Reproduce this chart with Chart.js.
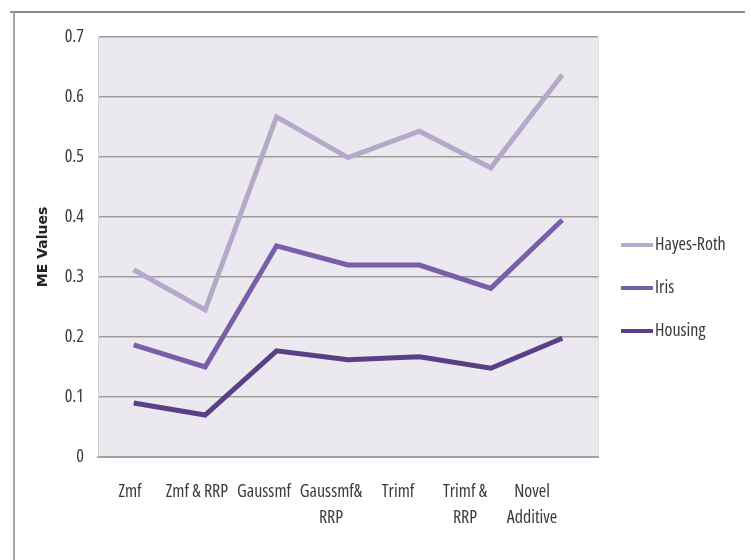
<!DOCTYPE html>
<html>
<head>
<meta charset="utf-8">
<script src="https://cdn.jsdelivr.net/npm/chart.js@4/dist/chart.umd.min.js"></script>
<style>
  html, body { margin: 0; padding: 0; background: #ffffff; }
  #wrap { position: relative; width: 751px; height: 560px; }
</style>
</head>
<body>
<div id="wrap"><canvas id="c" width="751" height="560"></canvas></div>
<script>
// ---- Data ----
const categoryLabels = ["Zmf", "Zmf & RRP", "Gaussmf", ["Gaussmf&", "RRP"], "Trimf", ["Trimf &", "RRP"], ["Novel", "Additive"]];
const seriesNames = ["Hayes-Roth", "Iris", "Housing"];
const hayesRoth = [0.312, 0.245, 0.567, 0.499, 0.543, 0.482, 0.637];
const iris      = [0.187, 0.150, 0.352, 0.320, 0.320, 0.281, 0.395];
const housing   = [0.090, 0.070, 0.177, 0.162, 0.167, 0.148, 0.198];
const yTicks = [0, 0.1, 0.2, 0.3, 0.4, 0.5, 0.6, 0.7];

const colors = ["#b3a9c9", "#7a5ea8", "#5b3f86"];
const FONT = "'Open Sans', sans-serif";
const STRETCH = 'condensed';

const bgPlugin = {
  id: 'bg',
  beforeDraw(chart) {
    const {ctx, chartArea: a} = chart;
    ctx.save();
    ctx.fillStyle = '#ebe8ef';
    ctx.fillRect(a.left, a.top, a.right - a.left, a.bottom - a.top);
    ctx.strokeStyle = '#dcdcdc';
    ctx.lineWidth = 1;
    ctx.beginPath();
    ctx.moveTo(a.right + 0.5, a.top);
    ctx.lineTo(a.right + 0.5, a.bottom);
    ctx.stroke();
    // outer frame (top and left)
    ctx.strokeStyle = '#8c8c8c';
    ctx.lineWidth = 2;
    ctx.beginPath();
    ctx.moveTo(10, 12);
    ctx.lineTo(745, 12);
    ctx.stroke();
    ctx.strokeStyle = '#a5a5a5';
    ctx.beginPath();
    ctx.moveTo(14, 12);
    ctx.lineTo(14, 560);
    ctx.stroke();
    ctx.restore();
  }
};

const legendPlugin = {
  id: 'sideLegend',
  afterDraw(chart) {
    const {ctx} = chart;
    const x0 = 621, x1 = 653, yStart = 245, step = 43;
    ctx.save();
    chart.data.datasets.forEach((ds, i) => {
      const y = yStart + i * step;
      ctx.strokeStyle = ds.borderColor;
      ctx.lineWidth = 4;
      ctx.beginPath();
      ctx.moveTo(x0, y);
      ctx.lineTo(x1, y);
      ctx.stroke();
      ctx.fillStyle = '#3a3a3a';
      ctx.font = STRETCH + " 18px " + FONT;
      ctx.textBaseline = 'middle';
      ctx.textAlign = 'left';
      ctx.fillText(ds.label, x1 + 2, y);
    });
    ctx.restore();
  }
};

new Chart(document.getElementById('c'), {
  type: 'line',
  data: {
    labels: categoryLabels,
    datasets: [
      { label: seriesNames[0], data: hayesRoth, borderColor: colors[0] },
      { label: seriesNames[1], data: iris, borderColor: colors[1] },
      { label: seriesNames[2], data: housing, borderColor: colors[2] }
    ].map(d => Object.assign(d, { borderWidth: 5, pointRadius: 0, tension: 0, fill: false, backgroundColor: d.borderColor }))
  },
  options: {
    responsive: false,
    animation: false,
    devicePixelRatio: 1,
    layout: { padding: { left: 14, top: 37, right: 153, bottom: 0 } },
    plugins: { legend: { display: false }, tooltip: { enabled: false }, title: { display: false } },
    scales: {
      x: {
        offset: true,
        grid: { display: false, drawTicks: false, offset: true },
        border: { display: true, color: '#a0a0a0', width: 2 },
        ticks: { display: false },
        afterFit(scale) { scale.height = 0; }
      },
      // label axis: category names laid out as in the reference (slightly tighter than the points)
      xLabels: {
        type: 'linear',
        position: 'bottom',
        min: -0.4776,
        max: 6.985,
        afterBuildTicks(scale) { scale.ticks = categoryLabels.map((_, i) => ({ value: i })); },
        grid: { display: false, drawTicks: false },
        border: { display: false },
        ticks: {
          color: '#3a3a3a',
          font: { family: FONT, size: 18, weight: STRETCH, lineHeight: '26px' },
          padding: 22,
          maxRotation: 0,
          autoSkip: false,
          callback: (v) => categoryLabels[v]
        },
        afterFit(scale) { scale.height = 103; }
      },
      y: {
        min: 0,
        max: 0.7,
        afterBuildTicks(scale) { scale.ticks = yTicks.map(v => ({ value: v })); },
        grid: { color: '#9c9c9c', lineWidth: 1.5, drawTicks: false },
        border: { display: true, color: '#d0d0d0', width: 1 },
        ticks: {
          color: '#3a3a3a',
          font: { family: FONT, size: 18, weight: STRETCH },
          padding: 14,
          callback: v => String(v)
        },
        title: {
          display: true,
          text: 'ME Values',
          color: '#222222',
          font: { family: "'DejaVu Sans', sans-serif", size: 14, weight: 'bold' },
          padding: { top: 21, bottom: 0 }
        },
        afterFit(scale) { scale.width = 84; }
      }
    }
  },
  plugins: [bgPlugin, legendPlugin]
});
</script>
</body>
</html>
